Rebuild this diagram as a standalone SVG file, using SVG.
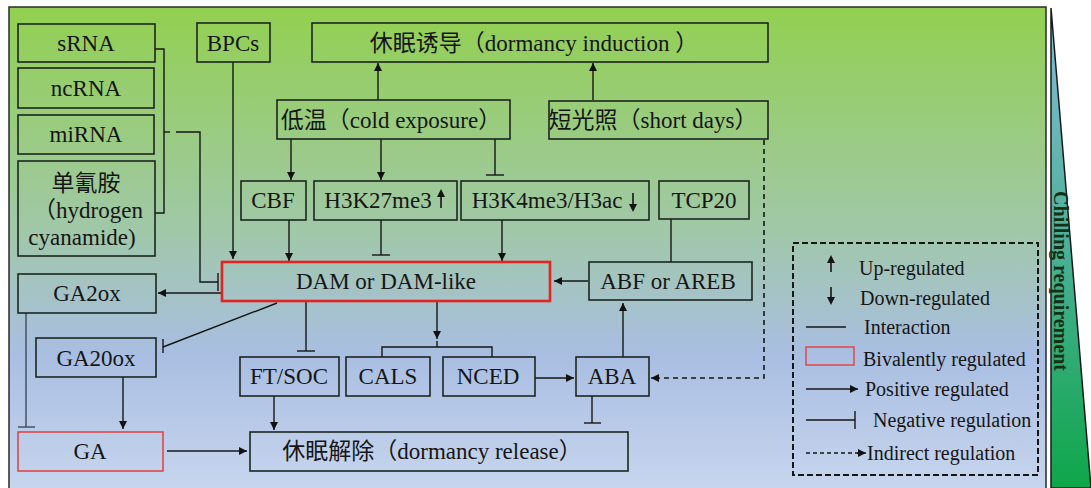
<svg xmlns="http://www.w3.org/2000/svg" width="1091" height="488" viewBox="0 0 1091 488">
<defs>
<linearGradient id="bg" x1="0" y1="0" x2="0" y2="1">
<stop offset="0" stop-color="#92d050"/>
<stop offset="0.45" stop-color="#a0c8a6"/>
<stop offset="0.72" stop-color="#a9bee2"/>
<stop offset="1" stop-color="#c8d6ee"/>
</linearGradient>
<linearGradient id="tri" x1="0" y1="0" x2="0" y2="1">
<stop offset="0" stop-color="#86bcd8"/>
<stop offset="0.5" stop-color="#4cb096"/>
<stop offset="1" stop-color="#0ea64a"/>
</linearGradient>
<marker id="ah" viewBox="0 0 10 10" refX="10" refY="5" markerWidth="9" markerHeight="8" markerUnits="userSpaceOnUse" orient="auto">
<path d="M0,0 L10,5 L0,10 z" fill="#111"/>
</marker>
</defs>
<style>
.box{fill:none;stroke:#1c2620;stroke-width:1.6}
.red{fill:none;stroke:#e52222;stroke-width:2.6}
.red2{fill:none;stroke:#e04848;stroke-width:1.6}
.t{font-family:'Liberation Serif','Noto Sans CJK SC',serif;font-size:23px;fill:#161616;text-anchor:middle}
.lg{font-family:'Liberation Serif',serif;font-size:20px;fill:#161616}
.c{stroke:#161616;stroke-width:1.4;fill:none}
.a{stroke:#161616;stroke-width:1.4;fill:none;marker-end:url(#ah)}
.d{stroke:#161616;stroke-width:1.6;fill:none;stroke-dasharray:5 4}
</style>
<rect x="9" y="7" width="1037" height="484" fill="url(#bg)" stroke="#2a2a2a" stroke-width="1.5"/>
<g id="chilling">
<polygon points="1051,8 1091,488 1051,488" fill="url(#tri)" stroke="#1a1a1a" stroke-width="1.5"/>
<text transform="translate(1054,281) rotate(90)" style="font-family:'Liberation Serif',serif;font-size:20px;font-weight:bold;fill:#163016;text-anchor:middle">Chilling requirement</text>
</g>

<g id="connectors">
<polyline class="c" points="155,49 164,49 164,213 155,213"/>
<line class="c" x1="164" y1="132" x2="170" y2="132"/>
<polyline class="c" points="176,132 200,132 200,282 218,282"/>
<line class="c" x1="218" y1="273" x2="218" y2="291"/>
<line class="a" x1="233" y1="62" x2="233" y2="259"/>
<line class="a" x1="378" y1="100" x2="378" y2="63"/>
<line class="a" x1="593" y1="100" x2="593" y2="63"/>
<line class="a" x1="291" y1="139" x2="291" y2="180"/>
<line class="a" x1="381" y1="139" x2="381" y2="180"/>
<line class="c" x1="495" y1="139" x2="495" y2="175"/>
<line class="c" x1="486" y1="175" x2="504" y2="175"/>
<line class="a" x1="289" y1="220" x2="289" y2="261"/>
<line class="c" x1="381" y1="220" x2="381" y2="255"/>
<line class="c" x1="372" y1="255" x2="390" y2="255"/>
<line class="a" x1="502" y1="220" x2="502" y2="261"/>
<line class="c" x1="671" y1="219" x2="671" y2="262"/>
<line class="a" x1="588" y1="281" x2="554" y2="281"/>
<line class="a" x1="222" y1="293" x2="158" y2="293"/>
<line class="c" x1="277" y1="303" x2="163" y2="347"/>
<line class="c" x1="163" y1="339" x2="163" y2="353"/>
<line class="c" x1="306" y1="301" x2="306" y2="351"/>
<line class="c" x1="297" y1="351" x2="315" y2="351"/>
<line class="a" x1="437" y1="301" x2="437" y2="339"/>
<line class="c" x1="437" y1="341" x2="437" y2="347"/>
<polyline class="c" points="382,357 382,347 492,347 492,357"/>
<line class="a" x1="535" y1="378" x2="574" y2="378"/>
<line class="a" x1="623" y1="357" x2="623" y2="303"/>
<line class="c" x1="592" y1="396" x2="592" y2="423"/>
<line class="c" x1="584" y1="423" x2="601" y2="423"/>
<polyline class="d" points="764,140 764,378 660,378"/>
<line class="a" x1="660" y1="378" x2="651" y2="378"/>
<line class="c" x1="26" y1="313" x2="26" y2="427" style="stroke:#3c4a5e"/>
<line class="c" x1="18" y1="427" x2="35" y2="427" style="stroke:#3c4a5e"/>
<line class="a" x1="123" y1="377" x2="123" y2="429"/>
<line class="a" x1="274" y1="396" x2="274" y2="430"/>
<line class="a" x1="167" y1="451" x2="247" y2="451"/>
</g>

<g id="sRNA"><rect class="box" x="18" y="24" width="137" height="38"/><text class="t" x="86" y="51">sRNA</text></g>
<g id="ncRNA"><rect class="box" x="18" y="68" width="136" height="40"/><text class="t" x="86" y="96">ncRNA</text></g>
<g id="miRNA"><rect class="box" x="18" y="115" width="136" height="39"/><text class="t" x="86" y="142">miRNA</text></g>
<g id="cyanamide"><rect class="box" x="18" y="161" width="137" height="95"/>
<text class="t" x="86" y="191">单氰胺</text>
<text class="t" x="88" y="218">（hydrogen</text>
<text class="t" x="82" y="245">cyanamide)</text></g>
<g id="BPCs"><rect class="box" x="197" y="23" width="73" height="39"/><text class="t" x="233" y="51">BPCs</text></g>
<g id="induction"><rect class="box" x="312" y="23" width="456" height="39"/><text class="t" x="534" y="51">休眠诱导（dormancy induction ）</text></g>
<g id="cold"><rect class="box" x="277" y="100" width="233" height="39"/><text class="t" x="391" y="128">低温（cold exposure）</text></g>
<g id="shortdays"><rect class="box" x="549" y="101" width="219" height="38"/><text class="t" x="653" y="128">短光照（short days）</text></g>
<g id="CBF"><rect class="box" x="241" y="181" width="65" height="39"/><text class="t" x="273" y="208">CBF</text></g>
<g id="H3K27me3"><rect class="box" x="314" y="181" width="143" height="39"/><text class="t" x="378" y="208">H3K27me3</text>
<line x1="441" y1="208" x2="441" y2="196" stroke="#161616" stroke-width="1.6"/><polygon points="437,197 445,197 441,189" fill="#161616"/></g>
<g id="H3K4me3"><rect class="box" x="461" y="181" width="188" height="39"/><text class="t" x="547" y="208">H3K4me3/H3ac</text>
<line x1="633" y1="193" x2="633" y2="205" stroke="#161616" stroke-width="1.6"/><polygon points="629,204 637,204 633,212" fill="#161616"/></g>
<g id="TCP20"><rect class="box" x="659" y="181" width="90" height="38"/><text class="t" x="704" y="208">TCP20</text></g>
<g id="DAM"><rect class="red" x="222" y="262" width="328" height="39"/><text class="t" x="386" y="289">DAM or DAM-like</text></g>
<g id="ABF"><rect class="box" x="589" y="262" width="163" height="38"/><text class="t" x="668" y="289">ABF or AREB</text></g>
<g id="GA2ox"><rect class="box" x="18" y="274" width="138" height="39"/><text class="t" x="87" y="301">GA2ox</text></g>
<g id="GA20ox"><rect class="box" x="36" y="338" width="120" height="39"/><text class="t" x="96" y="366">GA20ox</text></g>
<g id="FTSOC"><rect class="box" x="240" y="357" width="99" height="39"/><text class="t" x="289" y="384">FT/SOC</text></g>
<g id="CALS"><rect class="box" x="346" y="357" width="84" height="39"/><text class="t" x="388" y="384">CALS</text></g>
<g id="NCED"><rect class="box" x="443" y="357" width="92" height="39"/><text class="t" x="488" y="384">NCED</text></g>
<g id="ABA"><rect class="box" x="576" y="357" width="73" height="39"/><text class="t" x="612" y="384">ABA</text></g>
<g id="GA"><rect class="red2" x="18" y="432" width="145" height="39"/><text class="t" x="90" y="459">GA</text></g>
<g id="release"><rect class="box" x="250" y="432" width="378" height="39"/><text class="t" x="432" y="459">休眠解除（dormancy release）</text></g>

<g id="legend">
<rect x="793" y="243" width="245" height="232" fill="none" stroke="#161616" stroke-width="2" stroke-dasharray="6 3"/>
<line x1="831" y1="272" x2="831" y2="262" stroke="#161616" stroke-width="1.6"/><polygon points="827,263 835,263 831,255" fill="#161616"/>
<text class="lg" x="859" y="275">Up-regulated</text>
<line x1="831" y1="287" x2="831" y2="298" stroke="#161616" stroke-width="1.6"/><polygon points="827,297 835,297 831,305" fill="#161616"/>
<text class="lg" x="860" y="305">Down-regulated</text>
<line class="c" x1="806" y1="327" x2="846" y2="327"/>
<text class="lg" x="864" y="334">Interaction</text>
<rect x="806" y="347" width="48" height="18" fill="none" stroke="#e04848" stroke-width="1.5"/>
<text class="lg" x="863" y="366">Bivalently regulated</text>
<line class="a" x1="806" y1="389" x2="858" y2="389"/>
<text class="lg" x="865" y="396">Positive regulated</text>
<line class="c" x1="806" y1="420" x2="855" y2="420"/>
<line class="c" x1="855" y1="411" x2="855" y2="429"/>
<text class="lg" x="873" y="427">Negative regulation</text>
<line class="d" x1="806" y1="453" x2="858" y2="453" style="stroke-dasharray:4 3"/>
<line class="a" x1="857" y1="453" x2="866" y2="453"/>
<text class="lg" x="867" y="460">Indirect regulation</text>
</g>
</svg>
